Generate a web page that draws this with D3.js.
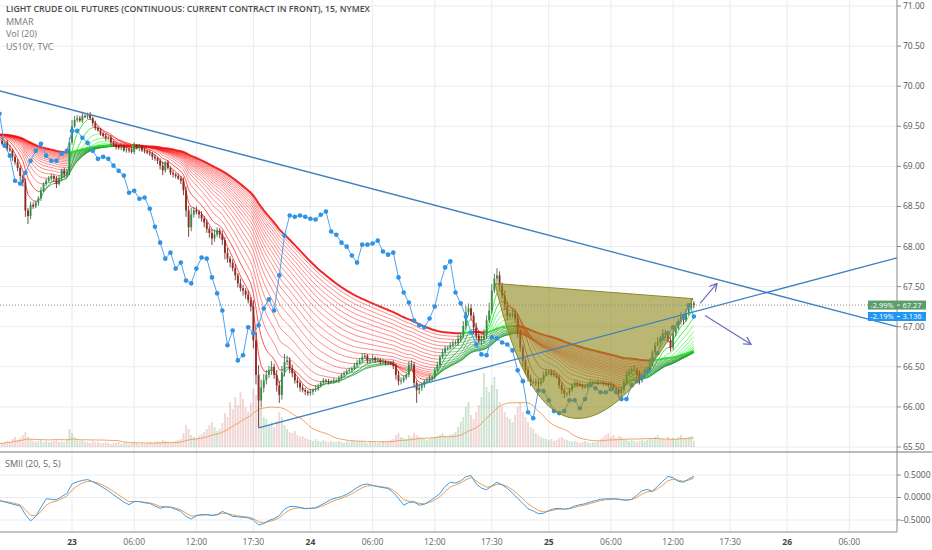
<!DOCTYPE html>
<html>
<head>
<meta charset="utf-8">
<script src="https://cdn.jsdelivr.net/npm/d3@7"></script>
<style>
  body { margin: 0; background: #fff; }
  svg { display: block; font-family: "Open Sans", sans-serif; }
</style>
</head>
<body>
<div id="chart"></div>
<script>
// 15 min bars, time is in "trading hours" since the 23rd 00:00 (session gap removed)
const barStart = -7;
const barStep = 0.25;
const firstOpen = 69.35;

const closes = [
  69.32,69.28,69.30,69.22,69.20,69.12,69.05,68.98,68.88,68.80,
  68.45,68.38,68.52,68.50,68.55,68.60,68.70,68.78,68.82,68.85,
  68.88,68.85,68.78,68.85,68.95,68.90,68.93,69.30,69.50,69.58,
  69.60,69.57,69.63,69.62,69.64,69.60,69.54,69.48,69.45,69.41,
  69.38,69.35,69.36,69.30,69.27,69.24,69.23,69.25,69.20,69.21,
  69.20,69.18,69.26,69.23,69.25,69.20,69.19,69.17,69.16,69.12,
  69.10,69.07,69.01,68.95,69.05,68.98,68.92,68.90,68.88,68.85,
  68.82,68.70,68.45,68.24,68.40,68.45,68.43,68.40,68.35,68.30,
  68.22,68.17,68.10,68.15,68.20,68.15,68.08,67.92,67.85,67.80,
  67.73,67.64,67.54,67.48,67.45,67.40,67.33,67.25,66.83,66.40,
  66.08,66.24,66.33,66.40,66.46,66.50,66.40,66.27,66.15,66.43,
  66.56,66.58,66.48,66.42,66.33,66.30,66.24,66.21,66.19,66.17,
  66.19,66.21,66.23,66.26,66.30,66.33,66.32,66.31,66.32,66.33,
  66.33,66.36,66.40,66.42,66.45,66.46,66.48,66.52,66.55,66.58,
  66.62,66.64,66.58,66.58,66.61,66.58,66.59,66.56,66.57,66.55,
  66.55,66.54,66.51,66.40,66.32,66.33,66.36,66.40,66.52,66.52,
  66.30,66.21,66.24,66.27,66.32,66.33,66.36,66.37,66.46,66.52,
  66.62,66.68,66.73,66.74,66.77,66.79,66.80,66.85,66.89,67.01,
  67.18,67.23,67.14,66.99,66.89,66.83,66.85,66.89,67.08,67.20,
  67.45,67.60,67.64,67.51,67.39,67.26,67.14,67.14,67.17,67.10,
  66.92,66.74,66.58,66.46,66.36,66.31,66.31,66.30,66.29,66.33,
  66.40,66.44,66.44,66.42,66.40,66.37,66.27,66.21,66.17,66.17,
  66.21,66.27,66.30,66.28,66.27,66.25,66.25,66.28,66.31,66.31,
  66.31,66.30,66.30,66.29,66.28,66.27,66.26,66.23,66.21,66.17,
  66.21,66.31,66.40,66.44,66.46,66.46,66.42,66.33,66.39,66.43,
  66.46,66.55,66.68,66.77,66.81,66.86,66.92,66.90,66.83,66.74,
  66.92,66.98,67.06,67.12,67.08,67.17,67.23,67.29,67.27
];

// wick length above / below the body, in cents
const wickHi = [
  3,4,2,3,5,2,3,4,3,2, 5,3,4,3,2,3,4,2,3,3, 3,2,3,4,2,3,4,6,8,5, 4,3,5,2,3,4,2,3,2,3,
  2,3,2,3,2,3,2,4,2,3, 2,3,4,2,3,2,3,2,3,2, 3,2,3,5,2,3,2,3,2,3, 3,4,5,6,8,4,5,3,4,3,
  4,3,5,6,4,3,5,4,6,3, 4,5,3,6,4,3,5,4,8,10, 12,10,8,6,5,7,4,6,5,8, 10,6,4,5,3,4,3,4,3,2,
  3,2,4,3,2,3,2,3,2,3, 2,3,2,3,2,3,2,3,4,3, 5,3,2,3,4,2,3,2,3,2, 3,2,4,3,5,4,3,2,5,6,
  4,3,5,3,2,3,4,2,3,4, 3,4,3,2,3,4,3,5,4,6, 8,6,5,4,6,5,4,8,6,10, 8,6,9,5,4,6,5,4,6,5,
  6,5,4,3,5,4,3,4,5,3, 4,3,2,3,4,2,3,4,3,2, 3,2,3,2,3,2,3,2,3,2, 2,3,2,3,2,3,4,3,2,3,
  4,3,5,3,4,6,3,4,3,5, 4,5,3,4,6,3,5,4,3,4, 5,3,4,6,3,5,4,6,3
];
const wickLo = [
  3,2,4,3,2,5,3,4,6,5, 8,10,4,3,2,4,3,2,3,2, 3,4,5,2,3,4,3,4,3,2, 3,2,3,2,3,2,4,3,2,3,
  2,3,2,4,2,3,2,3,2,3, 3,2,3,2,4,2,3,2,3,4, 3,4,5,6,3,2,3,4,3,2, 4,6,8,12,5,4,3,5,4,6,
  5,6,8,4,3,5,6,8,5,6, 4,6,5,4,6,5,4,6,10,12, 34,8,6,5,4,6,5,8,10,6, 5,4,6,5,4,6,5,3,4,3,
  3,4,2,3,2,3,2,3,2,3, 2,3,2,3,2,2,3,2,3,2, 3,2,4,3,2,3,2,3,2,3, 3,2,4,6,5,4,3,2,3,4,
  6,16,5,4,3,2,3,4,3,2, 3,2,4,3,2,3,2,3,4,3, 5,4,6,8,5,4,6,5,4,3, 4,3,5,6,4,5,6,4,3,5,
  6,5,8,6,4,5,3,4,5,3, 3,2,3,4,3,2,4,5,6,4, 3,2,3,4,2,3,2,3,2,3, 2,3,2,3,2,3,4,3,4,6,
  8,4,3,2,3,2,4,5,3,2, 3,2,4,3,2,3,2,4,3,5, 3,4,2,3,5,2,3,2,4
];

// volume, hundreds of contracts
const volumes = [
  4,3,5,6,5,8,10,7,9,12, 15,10,8,6,5,6,7,5,6,5, 5,6,7,5,6,5,8,18,14,10, 8,6,7,5,5,4,6,5,5,4,
  4,5,4,3,4,4,5,3,4,4, 3,4,5,4,3,4,3,4,5,4, 5,6,5,7,6,5,4,5,6,7, 8,14,22,18,12,10,9,11,13,15,
  18,22,25,20,16,18,24,34,30,45, 38,50,42,55,48,40,35,44,58,52, 60,40,30,28,22,25,20,26,35,30, 22,18,15,14,16,12,10,11,9,8,
  7,6,8,6,5,7,6,5,6,5, 5,6,5,4,6,5,7,6,5,6, 6,5,4,5,6,5,4,5,6,5, 6,7,8,12,14,10,9,8,12,10,
  14,12,10,9,8,7,8,9,10,11, 12,14,11,10,12,13,15,20,25,30, 40,45,32,28,35,42,50,74,60,55, 62,70,58,45,40,35,30,28,25,32,
  40,45,35,30,25,20,18,14,12,10, 9,8,7,8,6,7,9,10,8,7, 6,5,6,5,4,5,6,5,4,5, 5,6,8,10,12,14,10,12,9,11,
  10,8,7,6,7,6,5,6,7,6, 7,8,9,10,12,9,8,7,10,8, 9,8,10,12,9,8,10,11,6
];

// US10Y and SMII, one value every 30 min, starting with the first bar
const halfHourStep = 0.5;
const us10y = [
  3.1868,3.1788,3.1763,3.1700,3.1693,3.1720,3.1750,3.1775,3.1793,3.1763,
  3.1750,3.1750,3.1768,3.1775,3.1825,3.1825,3.1808,3.1795,3.1775,3.1755,
  3.1760,3.1755,3.1738,3.1725,3.1713,3.1670,3.1675,3.1655,3.1658,3.1630,
  3.1585,3.1545,3.1505,3.1520,3.1480,3.1495,3.1450,3.1443,3.1480,3.1508,
  3.1505,3.1458,3.1418,3.1375,3.1288,3.1325,3.1250,3.1263,3.1333,3.1318,
  3.1338,3.1380,3.1403,3.1375,3.1463,3.1563,3.1613,3.1610,3.1613,3.1610,
  3.1605,3.1603,3.1615,3.1623,3.1573,3.1565,3.1545,3.1535,3.1513,3.1495,
  3.1540,3.1540,3.1543,3.1550,3.1523,3.1515,3.1520,3.1458,3.1420,3.1395,
  3.1350,3.1338,3.1333,3.1355,3.1385,3.1440,3.1483,3.1498,3.1420,3.1393,
  3.1360,3.1320,3.1290,3.1265,3.1263,3.1308,3.1305,3.1295,3.1290,3.1275,
  3.1225,3.1198,3.1120,3.1105,3.1175,3.1173,3.1150,3.1123,3.1118,3.1123,
  3.1150,3.1150,3.1130,3.1153,3.1188,3.1180,3.1170,3.1170,3.1178,3.1170,
  3.1153,3.1153,3.1188,3.1198,3.1208,3.1223,3.1253,3.1268,3.1305,3.1318,
  3.1333,3.1343,3.1358,3.1388,3.1360
];
const smii = [
  -0.07,-0.10,-0.13,-0.16,-0.19,-0.38,-0.52,-0.42,-0.22,-0.03,
  -0.04,-0.05,0.02,0.09,0.30,0.35,0.38,0.40,0.35,0.29,
  0.22,0.15,0.06,-0.02,-0.10,-0.16,-0.09,-0.09,-0.12,-0.13,
  -0.19,-0.24,-0.21,-0.22,-0.26,-0.31,-0.42,-0.48,-0.40,-0.38,
  -0.38,-0.40,-0.38,-0.31,-0.36,-0.42,-0.43,-0.44,-0.45,-0.50,
  -0.61,-0.58,-0.51,-0.47,-0.40,-0.26,-0.20,-0.20,-0.22,-0.25,
  -0.24,-0.23,-0.17,-0.11,-0.04,-0.01,0.02,0.07,0.14,0.22,
  0.28,0.30,0.27,0.24,0.22,0.20,0.11,-0.02,-0.17,-0.11,
  -0.10,-0.17,-0.15,-0.08,0.00,0.09,0.25,0.34,0.32,0.37,
  0.46,0.49,0.30,0.21,0.17,0.26,0.34,0.28,0.20,0.10,
  -0.02,-0.13,-0.25,-0.30,-0.36,-0.35,-0.29,-0.25,-0.24,-0.26,
  -0.24,-0.19,-0.16,-0.14,-0.10,-0.07,-0.04,-0.03,-0.03,-0.03,
  -0.05,-0.06,-0.04,0.05,0.15,0.18,0.14,0.25,0.36,0.47,
  0.44,0.36,0.34,0.41,0.47
];

const lastChange = '-2.99%';
const us10yChange = '-2.19%';

// axes
const priceTicks = [65.5, 66, 66.5, 67, 67.5, 68, 68.5, 69, 69.5, 70, 70.5, 71];
const smiiTicks = [0.5, 0, -0.5];
const timeTicks = [0, 6, 12, 17.5, 23, 29, 35, 40.5, 46, 52, 58, 63.5, 69, 75];
const timeLabels = ['23', '06:00', '12:00', '17:30', '24', '06:00', '12:00', '17:30', '25', '06:00', '12:00', '17:30', '26', '06:00'];
const dayTicks = ['23', '24', '25', '26'];

// ribbon (MMAR)
const ribbonLengths = [5, 10, 15, 20, 25, 30, 35, 40, 45, 50, 55, 60, 65, 70, 75, 80, 85, 90, 95, 100];
const ribbonSeed = 69.4;

// drawings: [trading hour, price]
const fallingLine = [[-6.95, 69.94], [79.6, 67.00]];
const risingLine = [[18.0, 65.74], [79.6, 67.86]];
const cupShape = [[40.81, 67.54], [59.92, 67.35], [46.7, 64.27]];
const arrowUp = [[60.6, 67.29], [62.23, 67.54]];
const arrowDown = [[61.08, 67.14], [65.51, 66.78]];

// ---- layout ----
const width = 932, height = 550;
const plotRight = 897;
const priceTop = 0, priceBottom = 452;
const smiiBottom = 532;

const svg = d3.select('#chart').append('svg')
  .attr('width', width)
  .attr('height', height);

const x = d3.scaleLinear().domain([-6.95, 79.6]).range([0, plotRight]);
const y = d3.scaleLinear().domain([65.5, 71]).range([447, 6]);
const yBond = d3.scaleLinear().domain([3.1033, 3.2138]).range([447, 6]);
const yVol = d3.scaleLinear().domain([0, 80]).range([447, 367]);
const ySmii = d3.scaleLinear().domain([-0.5, 0.5]).range([520, 475]);

const barTime = i => barStart + i * barStep;
const halfTime = j => barStart + j * halfHourStep;

function ema(values, n, seed) {
  const a = 2 / (n + 1);
  let e = seed;
  return values.map(v => (e = e + a * (v - e)));
}

svg.append('defs').append('clipPath').attr('id', 'pane')
  .append('rect').attr('x', 0).attr('y', priceTop).attr('width', plotRight).attr('height', priceBottom);

// grid
const grid = svg.append('g');
grid.selectAll('.vg').data(timeTicks).enter().append('line')
  .attr('x1', d => x(d)).attr('x2', d => x(d))
  .attr('y1', 0).attr('y2', smiiBottom)
  .attr('stroke', '#e9ebef').attr('stroke-width', 1);
grid.selectAll('.hg').data(priceTicks).enter().append('line')
  .attr('x1', 0).attr('x2', plotRight)
  .attr('y1', d => y(d)).attr('y2', d => y(d))
  .attr('stroke', '#e9ebef');
grid.selectAll('.sg').data(smiiTicks).enter().append('line')
  .attr('x1', 0).attr('x2', plotRight)
  .attr('y1', d => ySmii(d)).attr('y2', d => ySmii(d))
  .attr('stroke', '#e9ebef');

const pane = svg.append('g').attr('clip-path', 'url(#pane)');

// candles
const bars = closes.map((c, i) => {
  const o = i === 0 ? firstOpen : closes[i - 1];
  return {
    t: barTime(i), o, c,
    h: Math.max(o, c) + wickHi[i] / 100,
    l: Math.min(o, c) - wickLo[i] / 100,
    v: volumes[i]
  };
});

// volume + Vol(20)
const barW = (x(barStep) - x(0)) * 0.72;
pane.selectAll('.vol').data(bars).enter().append('rect')
  .attr('x', d => x(d.t) - barW / 2)
  .attr('y', d => yVol(d.v))
  .attr('width', barW)
  .attr('height', d => yVol(0) - yVol(d.v))
  .attr('fill', d => d.c >= d.o ? 'rgba(110,170,120,0.33)' : 'rgba(205,120,115,0.3)');

const volMa = bars.map((d, i) => {
  const win = volumes.slice(Math.max(0, i - 19), i + 1);
  return { t: d.t, v: d3.mean(win) };
});
pane.append('path')
  .attr('d', d3.line().x(d => x(d.t)).y(d => yVol(d.v))(volMa))
  .attr('fill', 'none').attr('stroke', '#f4a261').attr('stroke-width', 1);

// ribbon
const ribbon = ribbonLengths.map(n => ema(closes, n, ribbonSeed));
const ref = ribbon[ribbon.length - 1];
const priceLine = d3.line().x(d => x(d.t)).y(d => y(d.v));
ribbon.forEach((vals, k) => {
  const isRef = k === ribbon.length - 1;
  const runs = [];
  let cur = null;
  for (let i = 1; i < vals.length; i++) {
    const rising = vals[i] >= vals[i - 1];
    const above = vals[i] >= ref[i];
    let c;
    if (isRef) c = rising ? '#22dd22' : '#ee1111';
    else if (rising) c = above ? '#00ee00' : '#1e9a2a';
    else c = '#ff1a1a';
    if (!cur || cur.c !== c) {
      cur = { c, pts: [{ t: barTime(i - 1), v: vals[i - 1] }] };
      runs.push(cur);
    }
    cur.pts.push({ t: barTime(i), v: vals[i] });
  }
  runs.forEach(r => {
    pane.append('path')
      .attr('d', priceLine(r.pts))
      .attr('fill', 'none')
      .attr('stroke', r.c)
      .attr('stroke-width', isRef ? 2 : 1)
      .attr('stroke-opacity', isRef ? 0.9 : (k < 2 ? 0.75 : 0.5));
  });
});

// candles
const cg = pane.append('g');
cg.selectAll('.wick').data(bars).enter().append('line')
  .attr('x1', d => x(d.t)).attr('x2', d => x(d.t))
  .attr('y1', d => y(d.h)).attr('y2', d => y(d.l))
  .attr('stroke', d => d.c >= d.o ? '#2d5e36' : '#5b1a13')
  .attr('stroke-width', 0.8);
cg.selectAll('.body').data(bars).enter().append('rect')
  .attr('x', d => x(d.t) - barW / 2)
  .attr('y', d => y(Math.max(d.o, d.c)))
  .attr('width', barW)
  .attr('height', d => Math.max(1, Math.abs(y(d.o) - y(d.c))))
  .attr('fill', d => d.c >= d.o ? '#3c8a4a' : '#8e2a22');

// US10Y
const bond = us10y.map((v, j) => ({ t: halfTime(j), v }));
pane.append('path')
  .attr('d', d3.line().x(d => x(d.t)).y(d => yBond(d.v))(bond))
  .attr('fill', 'none').attr('stroke', '#4da3ee').attr('stroke-width', 1);
pane.selectAll('.dot').data(bond).enter().append('circle')
  .attr('cx', d => x(d.t)).attr('cy', d => yBond(d.v))
  .attr('r', 2.3).attr('fill', '#2f92e4');

// cup drawing
const [c0, c1, cc] = cupShape;
const cupPath = d3.path();
cupPath.moveTo(x(c0[0]), y(c0[1]));
cupPath.lineTo(x(c1[0]), y(c1[1]));
cupPath.quadraticCurveTo(x(cc[0]), y(cc[1]), x(c0[0]), y(c0[1]));
cupPath.closePath();
pane.append('path').attr('d', cupPath.toString())
  .attr('fill', '#8f8b1e').attr('fill-opacity', 0.62)
  .attr('stroke', '#8a8a26').attr('stroke-width', 1);

// current price dotted line
const lastClose = closes[closes.length - 1];
svg.append('line')
  .attr('x1', 0).attr('x2', plotRight)
  .attr('y1', y(lastClose)).attr('y2', y(lastClose))
  .attr('stroke', '#888').attr('stroke-dasharray', '1,2');

// trend lines
const seg = pts => d3.line().x(d => x(d[0])).y(d => y(d[1]))(pts);
[fallingLine, risingLine].forEach(l => {
  pane.append('path').attr('d', seg(l))
    .attr('fill', 'none').attr('stroke', '#3f7fc0').attr('stroke-width', 1.3);
});

svg.select('defs').append('marker')
  .attr('id', 'arr').attr('viewBox', '0 0 10 10')
  .attr('refX', 9).attr('refY', 5)
  .attr('markerWidth', 7).attr('markerHeight', 7)
  .attr('orient', 'auto')
  .append('path').attr('d', 'M0,0 L9,5 L0,10')
  .attr('fill', 'none').attr('stroke', '#6b6bc0').attr('stroke-width', 1.5);
[arrowUp, arrowDown].forEach(a => {
  svg.append('path').attr('d', seg(a))
    .attr('fill', 'none').attr('stroke', '#6b6bc0').attr('stroke-width', 1.2)
    .attr('marker-end', 'url(#arr)');
});

// SMII pane
const smi = smii.map((v, j) => ({ t: halfTime(j), v }));
const sig = ema(smii, 3, smii[0]).map((v, j) => ({ t: halfTime(j), v }));
const smiLine = d3.line().x(d => x(d.t)).y(d => ySmii(d.v));
svg.append('path').attr('d', smiLine(sig))
  .attr('fill', 'none').attr('stroke', '#f39c4a').attr('stroke-width', 1);
svg.append('path').attr('d', smiLine(smi))
  .attr('fill', 'none').attr('stroke', '#3b9be8').attr('stroke-width', 1);

// frame lines
svg.append('line').attr('x1', 0).attr('x2', width).attr('y1', priceBottom).attr('y2', priceBottom)
  .attr('stroke', '#777').attr('stroke-width', 1);
svg.append('line').attr('x1', plotRight).attr('x2', plotRight).attr('y1', 0).attr('y2', smiiBottom)
  .attr('stroke', '#888');
svg.append('line').attr('x1', 0).attr('x2', plotRight).attr('y1', smiiBottom).attr('y2', smiiBottom)
  .attr('stroke', '#888');

// price axis
const axisG = svg.append('g').attr('font-size', 8.5).attr('fill', '#555');
priceTicks.forEach(p => {
  axisG.append('line').attr('x1', plotRight).attr('x2', plotRight + 4)
    .attr('y1', y(p)).attr('y2', y(p)).attr('stroke', '#888');
  axisG.append('text').attr('x', plotRight + 6).attr('y', y(p)).attr('dy', '0.35em')
    .text(p.toFixed(2));
});
smiiTicks.forEach(v => {
  axisG.append('line').attr('x1', plotRight).attr('x2', plotRight + 4)
    .attr('y1', ySmii(v)).attr('y2', ySmii(v)).attr('stroke', '#888');
  axisG.append('text').attr('x', plotRight + (v < 0 ? 4 : 7)).attr('y', ySmii(v)).attr('dy', '0.35em')
    .text(v.toFixed(4));
});

// time axis
timeTicks.forEach((t, k) => {
  const isDay = dayTicks.includes(timeLabels[k]);
  axisG.append('text').attr('x', x(t)).attr('y', 545)
    .attr('text-anchor', 'middle')
    .attr('font-weight', isDay ? 700 : 400)
    .attr('fill', isDay ? '#444' : '#666')
    .text(timeLabels[k]);
});

// last value labels
function tag(yPos, color, pct, val) {
  svg.append('rect').attr('x', 868).attr('y', yPos - 4.5).attr('width', 58).attr('height', 9)
    .attr('fill', color);
  svg.append('line').attr('x1', plotRight).attr('x2', plotRight + 3).attr('y1', yPos).attr('y2', yPos)
    .attr('stroke', '#fff');
  svg.append('text').attr('x', 882).attr('y', yPos).attr('dy', '0.35em')
    .attr('text-anchor', 'middle').attr('font-size', 7.5).attr('fill', '#fff').text(pct);
  svg.append('text').attr('x', 912).attr('y', yPos).attr('dy', '0.35em')
    .attr('text-anchor', 'middle').attr('font-size', 7.5).attr('fill', '#fff').text(val);
}
tag(y(lastClose), '#5c9d6c', lastChange, lastClose.toFixed(2));
tag(yBond(us10y[us10y.length - 1]), '#2196f3', us10yChange, us10y[us10y.length - 1].toFixed(3));

// legends
const lg = svg.append('g').attr('font-size', 9);
lg.append('text').attr('x', 6).attr('y', 12).attr('fill', '#4a4a4a').attr('font-weight', 600)
  .attr('textLength', 364).attr('lengthAdjust', 'spacingAndGlyphs')
  .text('LIGHT CRUDE OIL FUTURES (CONTINUOUS: CURRENT CONTRACT IN FRONT), 15, NYMEX');
lg.append('text').attr('x', 6).attr('y', 24.5).attr('fill', '#777').text('MMAR');
lg.append('text').attr('x', 6).attr('y', 37).attr('fill', '#777').text('Vol (20)');
lg.append('text').attr('x', 6).attr('y', 49.5).attr('fill', '#777').text('US10Y, TVC');
lg.append('text').attr('x', 5).attr('y', 467).attr('fill', '#666').text('SMII (20, 5, 5)');
</script>
</body>
</html>
